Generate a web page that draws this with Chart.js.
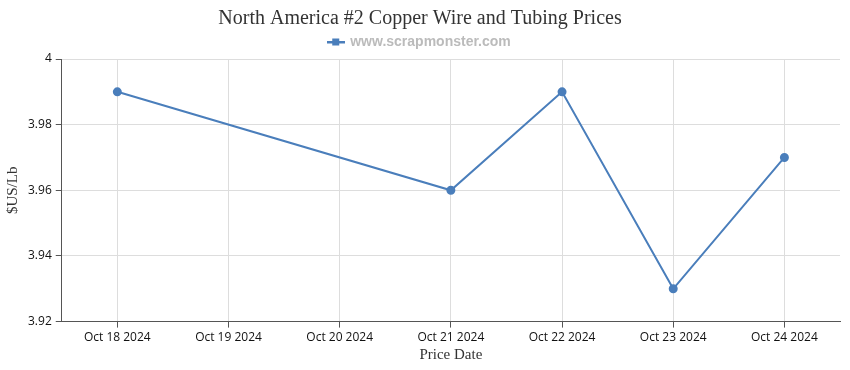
<!DOCTYPE html>
<html><head><meta charset="utf-8">
<script src="https://cdn.jsdelivr.net/npm/chart.js@4"></script>
<style>html,body{margin:0;padding:0;background:#fff}#wrap{width:850px;height:370px}</style>
</head><body><div id="wrap"><canvas id="c"></canvas></div>
<script>
const categories = ["Oct 18 2024","Oct 19 2024","Oct 20 2024","Oct 21 2024","Oct 22 2024","Oct 23 2024","Oct 24 2024"];
const prices = [3.99, null, null, 3.96, 3.99, 3.93, 3.97];
const yTicks = [3.92, 3.94, 3.96, 3.98, 4];
const seriesName = "www.scrapmonster.com";
const color = "#4a7ebb";

const mk = document.createElement('canvas');
mk.width = 18; mk.height = 8;
const m = mk.getContext('2d');
m.fillStyle = color;
m.fillRect(0, 3, 18, 2.5);
m.fillRect(5, 0.5, 7, 7);

new Chart(document.getElementById('c'), {
  type: 'line',
  data: { labels: categories, datasets: [{
    label: seriesName, data: prices, borderColor: color, backgroundColor: color,
    borderWidth: 2, pointRadius: 3.5, pointHoverRadius: 3.5, spanGaps: true, tension: 0,
    pointStyle: 'circle'
  }]},
  options: {
    responsive: true, maintainAspectRatio: false, animation: false,
    layout: { padding: { left: 0, right: 10, top: 3, bottom: 0 } },
    plugins: {
      title: { display: true, text: "North America #2 Copper Wire and Tubing Prices",
        font: { family: "Liberation Serif", size: 20, weight: 'normal' }, color: '#333',
        padding: { top: 4, bottom: 0 } },
      legend: { display: true, labels: {
        usePointStyle: true, pointStyle: mk, boxWidth: 18, boxHeight: 8,
        generateLabels: (chart) => [{ text: seriesName, pointStyle: mk, fillStyle: color, strokeStyle: color, lineWidth: 0, fontColor: '#bbb' }],
        color: '#bbb', font: { family: "Liberation Sans", size: 14, weight: 'bold' }, padding: 4 } },
      tooltip: { enabled: false }
    },
    scales: {
      x: {
        offset: true,
        grid: { display: true, color: '#ddd', tickColor: '#555', tickLength: 6, offset: false },
        border: { display: true, color: '#555' },
        ticks: { color: '#111', font: { family: "Open Sans", size: 12 }, maxRotation: 0, padding: 3 },
        title: { display: true, text: 'Price Date', color: '#333', font: { family: "Liberation Serif", size: 15 }, padding: { top: -2, bottom: 6 } }
      },
      y: {
        min: 3.92, max: 4,
        afterBuildTicks: (s) => { s.ticks = yTicks.map(v => ({ value: v })); },
        grid: { color: '#ddd', tickColor: '#555', tickLength: 6 },
        border: { display: true, color: '#555' },
        ticks: { color: '#111', font: { family: "Open Sans", size: 12 }, padding: 4,
          callback: (v) => String(+v.toFixed(2)) },
        title: { display: true, text: '$US/Lb', color: '#333', font: { family: "Liberation Serif", size: 15 }, padding: { bottom: 2 } }
      }
    }
  }
});
</script></body></html>
